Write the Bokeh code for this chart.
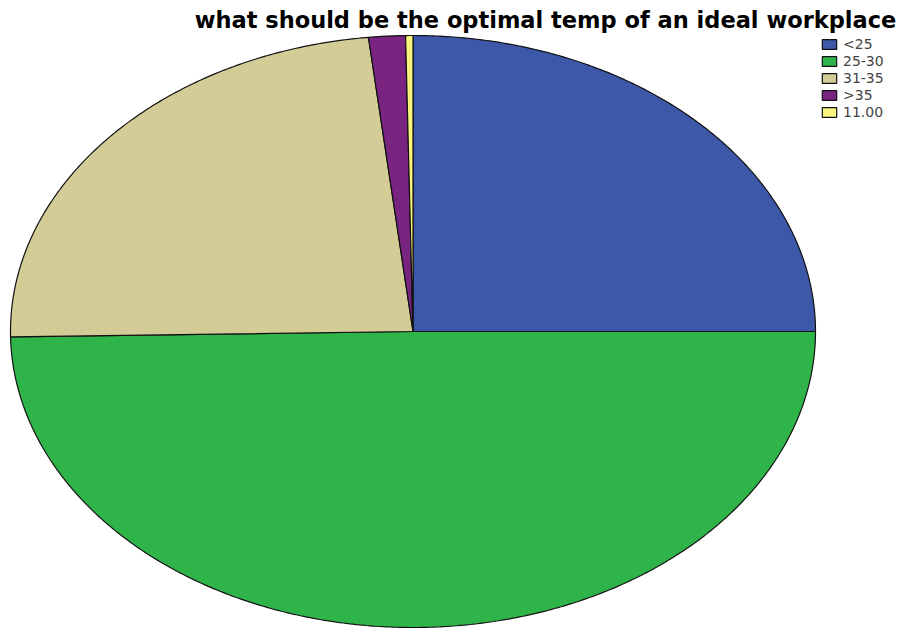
import math
from bokeh.plotting import figure
from bokeh.models import Range1d, Legend, LegendItem, Label
from bokeh.embed import file_html
from bokeh.resources import INLINE

categories = ["<25", "25-30", "31-35", ">35", "11.00"]
counts = [85, 169, 80, 5, 1]
colors = ["#3D57A9", "#2FB44A", "#D3CC97", "#7A2481", "#F9F47E"]
title_text = "what should be the optimal temp of an ideal workplace"

W, H = 907, 629
cx, cy = 412.5, 331.0   # ellipse centre in pixels (from top-left)
rx, ry = 402.5, 296.0

p = figure(width=W, height=H, output_backend="svg", toolbar_location=None,
           x_axis_location=None, y_axis_location=None, min_border=0,
           x_range=Range1d(-cx / rx, (W - cx) / rx),
           y_range=Range1d(-(H - cy) / ry, cy / ry))
p.xgrid.visible = False
p.ygrid.visible = False
p.outline_line_color = None
p.background_fill_color = "white"
p.border_fill_color = "white"

total = sum(counts)
items = []
cum = 0
for cat, cnt, col in zip(categories, counts, colors):
    a0 = math.pi / 2 - 2 * math.pi * cum / total
    cum += cnt
    a1 = math.pi / 2 - 2 * math.pi * cum / total
    n = max(4, int(abs(a1 - a0) * 120))
    xs = [0.0] + [math.cos(a0 + (a1 - a0) * i / n) for i in range(n + 1)]
    ys = [0.0] + [math.sin(a0 + (a1 - a0) * i / n) for i in range(n + 1)]
    r = p.patch(xs, ys, fill_color=col, line_color="#111111", line_width=1.2)
    items.append(LegendItem(label=cat, renderers=[r]))

legend = Legend(items=items, location=(820, H - 35 - 85),
                glyph_width=18, glyph_height=12, label_height=17,
                spacing=0, padding=0, margin=0, label_standoff=5,
                label_text_font="DejaVu Sans", label_text_font_size="14px",
                border_line_color=None, background_fill_alpha=0)
p.add_layout(legend)

title = Label(x=545, y=H - 19, x_units="screen", y_units="screen",
              text=title_text, text_align="center", text_baseline="alphabetic",
              text_font="DejaVu Sans", text_font_style="bold",
              text_font_size="22.5px", text_color="#000000")
p.add_layout(title)

open("out.html", "w").write(file_html(p, INLINE))
